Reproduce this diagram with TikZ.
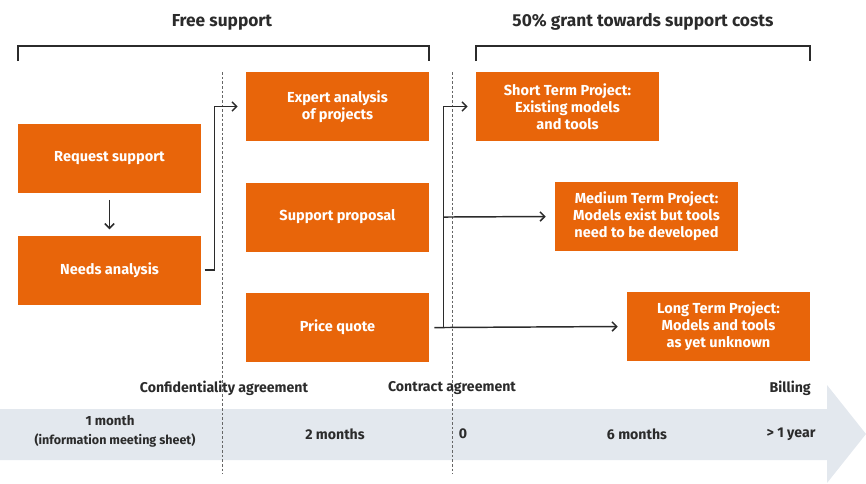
\documentclass[tikz,border=0pt]{standalone}
\usepackage{fontspec}
\setmainfont{Fira Sans}
\usepackage{xcolor}
\usepackage{tikz}
\usetikzlibrary{positioning, calc, arrows.meta}

\definecolor{ornge}{HTML}{E8650A}
\definecolor{txtdark}{HTML}{2B2B2B}
\definecolor{tlgrey}{HTML}{E3E8EE}

\begin{document}
\begin{tikzpicture}[x=0.75pt, y=-0.75pt, >={Straight Barb[length=3.5pt, width=7pt]}]
        \tikzstyle{box} = [rectangle, fill=ornge, text=white, font=\bfseries\fontsize{10.9}{12.6}\selectfont, align=center, minimum width=137.25pt, minimum height=51.75pt, inner sep=0pt]
        \tikzstyle{ttl} = [text=txtdark, font=\bfseries\fontsize{13}{15}\selectfont]
        \tikzstyle{tl} = [text=txtdark, font=\bfseries\fontsize{10.6}{12}\selectfont, inner sep=0pt]
        \tikzstyle{conn} = [line width=1.1pt, draw=txtdark]
        \tikzstyle{vdash} = [draw=black!60, line width=0.6pt, dash pattern=on 2pt off 1.5pt]

        \useasboundingbox (0,0) rectangle (866,483);

        % Timeline arrow
        \fill [tlgrey] (0,409) -- (827,409) -- (827,385) -- (866,434) -- (827,483) -- (827,460) -- (0,460) -- cycle;

        % Phase separators
        \draw [vdash] (222,72) -- (222,474);
        \draw [vdash] (452,72) -- (452,474);

        % Headings and brackets
        \node (freelbl) [ttl] at (222,22) {Free support};
        \node (grantlbl) [ttl] at (643,22) {50\% grant towards support costs};
        \draw [conn, line width=0.9pt] (18,61) -- (18,46) -- (429,46) -- (429,61);
        \draw [conn, line width=0.9pt] (476,61) -- (476,46) -- (810,46) -- (810,61);

        % Steps
        \node (req) [box] at (109.5,158.5) {Request support};
        \node (needs) [box, below=31.5pt of req] {Needs analysis};
        \node (expert) [box] at (337.5,106.5) {Expert analysis\\of projects};
        \node (proposal) [box, below=30.75pt of expert] {Support proposal};
        \node (quote) [box, below=30.75pt of proposal] {Price quote};

        % Projects
        \node (short) [box] at (567.5,106.5) {Short Term Project:\\Existing models\\and tools};
        \node (medium) [box] at (646.5,216.5) {Medium Term Project:\\Models exist but tools\\need to be developed};
        \node (long) [box] at (718.5,326.5) {Long Term Project:\\Models and tools\\as yet unknown};

        % Connections
        \draw [conn, ->] ([yshift=-5pt]req.south) -- ([yshift=4.5pt]needs.north);
        \draw [conn, ->] ([xshift=2.5pt]needs.east) -- ++(10,0) |- ([xshift=-6pt]expert.west);
        \coordinate (trunk) at ($(quote.east)+(14,0)$);
        \draw [conn, ->] ([xshift=3.75pt]quote.east) -- ([xshift=-6.75pt]long.west);
        \draw [conn, ->] (trunk) |- ([xshift=-6pt]short.west);
        \draw [conn, ->] (trunk |- proposal.east) -- ([xshift=-6.75pt]medium.west);

        % Milestones
        \node (conf) [tl] at (224,388) {Confidentiality agreement};
        \node (contract) [tl] at (452,388) {Contract agreement};
        \node (billing) [tl, anchor=east] at (811,388) {Billing};

        % Durations
        \node (m1) [tl, font=\bfseries\fontsize{10}{12}\selectfont] at (110,421) {1 month};
        \node (m1note) [tl, font=\bfseries\fontsize{9.4}{11}\selectfont] at (115,440) {(information meeting sheet)};
        \node (m2) [tl] at (335,434) {2 months};
        \node (m0) [tl] at (463,434) {0};
        \node (m6) [tl] at (637,434) {6 months};
        \node (y1) [tl] at (791,434) {> 1 year};
\end{tikzpicture}
\end{document}
